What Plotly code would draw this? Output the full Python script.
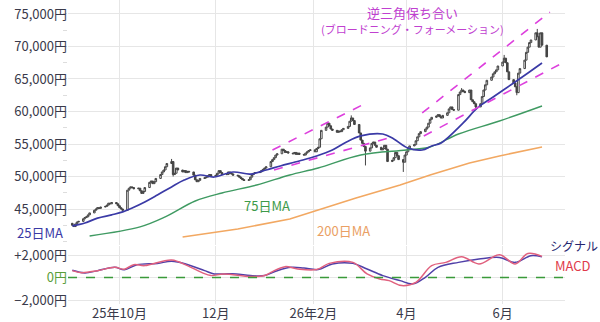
import plotly.graph_objects as go
import pandas as pd

# ---------------- data ----------------
trade_days = pd.bdate_range("2025-09-01", "2026-06-29")

closes = [
    42500, 42300, 42700, 43000, 43100,
    43500, 43700, 43800, 44100, 44400,
    44800, 45000, 45200, 45100, 45300,
    45400, 45600, 45900, 45800, 46000,
    45800, 45500, 45200, 45000, 44800,
    47900, 48200, 48400, 48300, 48100,
    48200, 47800, 47400, 47700, 48300,
    49100, 49300, 48900, 49200, 49700,
    50300, 50700, 51000, 51500, 52000,
    52300, 50300, 50500, 51300, 51000,
    50700, 50900, 50600, 50800, 50700,
    50200, 49500, 49200, 49400, 49700,
    49800, 49900, 50100, 50300, 50000,
    50200, 50500, 50900, 50600, 50300,
    50300, 50700, 50500, 50400, 50200,
    50100, 49900, 49700, 49500, 49400,
    49500, 49900, 50300, 50500, 50600,
    50700, 50900, 51100, 51300, 51500,
    52300, 52600, 52900, 53300, 53500,
    54200, 54000, 53700, 53800, 53600,
    53500, 53700, 53400, 53600, 53400,
    53300, 53600, 53800, 54000, 54100,
    53800, 54300, 54500, 55800, 57100,
    57600, 58200, 57800, 57300, 57100,
    56800, 57000, 56900, 57200, 57400,
    57700, 58500, 59000, 58600, 58000,
    56700, 55600, 55100, 54600, 53900,
    54400, 55100, 55300, 54800, 54500,
    54100, 54300, 54800, 54200, 52300,
    52500, 52900, 53700, 53200, 52600,
    52200, 53300, 53800, 54300, 54700,
    54900, 55500, 56100, 56600, 56900,
    57300, 57600, 58200, 58800, 59100,
    59300, 59500, 59200, 59000, 59400,
    59800, 60400, 60700, 60300, 60200,
    62600, 63000, 63300, 63100, 62900,
    63300, 61800, 61500, 61200, 60700,
    61200, 62300, 63300, 64100, 64800,
    65300, 65800, 66100, 66400, 67000,
    67600, 68200, 67500, 66100, 64900,
    64400, 63800, 62900, 65900, 66600,
    67900, 69100, 69900, 70600, 71000,
    72100, 71500, 69900, 72100, 70200,
    68400,
]
first_open = 42800
wick_high = {"2025-11-03": 52700, "2026-02-25": 59400, "2026-05-06": 63600,
             "2026-06-02": 68700, "2026-06-23": 72700}
wick_low = {"2025-11-04": 50000, "2026-03-06": 51700, "2026-03-30": 50700,
            "2026-06-10": 62500, "2026-05-15": 60400}

ma25_dates = ["2025-09-01", "2025-09-09", "2025-09-17", "2025-09-26", "2025-10-03", "2025-10-09",
              "2025-10-17", "2025-10-25", "2025-11-03", "2025-11-11", "2025-11-21", "2025-11-30",
              "2025-12-12", "2025-12-23", "2026-01-02", "2026-01-11", "2026-01-23", "2026-02-03",
              "2026-02-13", "2026-02-22", "2026-03-03", "2026-03-17", "2026-03-24", "2026-04-02",
              "2026-04-11", "2026-04-17", "2026-04-23", "2026-05-07", "2026-05-16", "2026-05-26",
              "2026-06-08", "2026-06-18", "2026-06-26"]
ma25_vals = [42400, 42850, 43600, 44100, 44550, 45150,
             46080, 47150, 48400, 49450, 50230, 49920,
             50690, 50380, 51000, 51620, 52390, 53160,
             54080, 55310, 56240, 56540, 55770, 54380,
             54080, 54700, 55160, 58240, 60540, 62230,
             64390, 66080, 67460]

ma75_dates = ["2025-09-12", "2025-10-14", "2025-10-30", "2025-11-18", "2025-12-05", "2025-12-27",
              "2026-01-17", "2026-02-04", "2026-03-03", "2026-04-01", "2026-04-16", "2026-05-04",
              "2026-05-30", "2026-06-26"]
ma75_vals = [40850, 42240, 43780, 46230, 47460, 48690,
             50230, 51310, 53310, 54080, 54540, 56540,
             58540, 60850]

ma200_dates = ["2025-11-10", "2025-12-15", "2026-01-17", "2026-02-28", "2026-03-28", "2026-04-16",
               "2026-05-11", "2026-05-30", "2026-06-26"]
ma200_vals = [40700, 41930, 43470, 46700, 48700, 50230, 52080, 53160, 54540]

# trend lines of the broadening formations (start/end)
trend_dates = [["2026-01-06", "2026-03-04"], ["2026-01-07", "2026-03-23"],
               ["2026-04-11", "2026-07-01"], ["2026-04-12", "2026-07-10"]]
trend_vals = [[54080, 61000], [51000, 56080], [59770, 75300], [56230, 67600]]

macd_dates = ["2025-09-01", "2025-09-07", "2025-09-17", "2025-09-28", "2025-10-04", "2025-10-10",
              "2025-10-17", "2025-11-03", "2025-11-13", "2025-11-22", "2025-11-28", "2025-12-06",
              "2025-12-23", "2026-01-01", "2026-01-05", "2026-01-14", "2026-01-22", "2026-02-03",
              "2026-02-11", "2026-02-26", "2026-03-07", "2026-03-15", "2026-03-21", "2026-03-29",
              "2026-04-07", "2026-04-17", "2026-04-26", "2026-05-06", "2026-05-17", "2026-05-30",
              "2026-06-09", "2026-06-17", "2026-06-26"]
macd_vals = [620, 440, 620, 920, 750, 1150,
             1070, 1570, 1070, 470, 180, 330,
             90, 180, 470, 980, 770, 720,
             1270, 1360, 330, -120, -270, -710,
             -420, 1070, 1360, 1870, 1220, 2040,
             1220, 2160, 1900]

signal_dates = ["2025-09-01", "2025-09-09", "2025-09-17", "2025-09-28", "2025-10-04", "2025-10-12",
                "2025-10-25", "2025-11-03", "2025-11-12", "2025-11-24", "2025-11-30", "2025-12-06",
                "2025-12-14", "2025-12-23", "2026-01-01", "2026-01-09", "2026-01-18", "2026-01-26",
                "2026-02-04", "2026-02-13", "2026-02-26", "2026-03-07", "2026-03-17", "2026-03-28",
                "2026-04-05", "2026-04-13", "2026-04-21", "2026-05-04", "2026-05-17", "2026-05-30",
                "2026-06-09", "2026-06-19", "2026-06-26"]
signal_vals = [650, 420, 620, 920, 700, 1150,
               1270, 1450, 1220, 620, 330, 330,
               330, 180, 180, 620, 920, 850,
               720, 1220, 1270, 770, 180, -270,
               -560, 30, 920, 1360, 1660, 1800,
               1360, 1960, 1850]

x_tickvals = ["2025-10-01", "2025-12-01", "2026-02-01", "2026-04-01", "2026-06-01"]
x_ticktext = ["25年10月", "12月", "26年2月", "4月", "6月"]
price_tickvals = [45000, 50000, 55000, 60000, 65000, 70000, 75000]
price_ticktext = ["45,000円", "50,000円", "55,000円", "60,000円", "65,000円", "70,000円", "75,000円"]
macd_tickvals = [-2000, 0, 2000]
macd_ticktext = ["−2,000円", "<span style='color:#5a9e3a'>0円</span>", "+2,000円"]

# ---------------- build ----------------
opens = [first_open] + closes[:-1]
day_str = [d.strftime("%Y-%m-%d") for d in trade_days]
highs = [max(o, c) for o, c in zip(opens, closes)]
lows = [min(o, c) for o, c in zip(opens, closes)]
for i, d in enumerate(day_str):
    if d in wick_high:
        highs[i] = max(highs[i], wick_high[d])
    if d in wick_low:
        lows[i] = min(lows[i], wick_low[d])

FONT = "Noto Sans CJK JP, Noto Sans, sans-serif"
NAVY = "#3a3aa6"
GREEN = "#3f9a62"
ORANGE = "#f2a862"
MAG = "#dd3fdd"
CANDLE = "#444444"

fig = go.Figure()
fig.add_trace(go.Candlestick(
    x=trade_days, open=opens, high=highs, low=lows, close=closes,
    increasing=dict(line=dict(color=CANDLE, width=1), fillcolor="#ffffff"),
    decreasing=dict(line=dict(color=CANDLE, width=1), fillcolor=CANDLE),
    whiskerwidth=0, xaxis="x", yaxis="y", hoverinfo="skip"))
fig.add_trace(go.Scatter(x=ma200_dates, y=ma200_vals, mode="lines",
                         line=dict(color=ORANGE, width=1.6), xaxis="x", yaxis="y"))
fig.add_trace(go.Scatter(x=ma75_dates, y=ma75_vals, mode="lines", line_shape="spline",
                         line=dict(color=GREEN, width=1.4), xaxis="x", yaxis="y"))
fig.add_trace(go.Scatter(x=ma25_dates, y=ma25_vals, mode="lines", line_shape="spline",
                         line=dict(color=NAVY, width=1.7), xaxis="x", yaxis="y"))
for td, tv in zip(trend_dates, trend_vals):
    fig.add_trace(go.Scatter(x=td, y=tv, mode="lines",
                             line=dict(color=MAG, width=1.6, dash="dash"), xaxis="x", yaxis="y"))

fig.add_trace(go.Scatter(x=signal_dates, y=signal_vals, mode="lines", line_shape="spline",
                         line=dict(color="#5040a8", width=1.5), xaxis="x2", yaxis="y2"))
fig.add_trace(go.Scatter(x=macd_dates, y=macd_vals, mode="lines", line_shape="spline",
                         line=dict(color="#e0607e", width=1.5), xaxis="x2", yaxis="y2"))

fig.add_shape(type="line", xref="x2 domain", yref="y2", x0=0, x1=1, y0=0, y1=0,
              line=dict(color="#3a9a3a", width=1.5, dash="dash"))

xrange = ["2025-08-29 07:00", "2026-07-10 14:00"]
grid = "#e6e6e6"
tickfont = dict(family=FONT, size=13, color="#3a3a4a")

def px(xp, yp):
    return (xp - 68) / 497.0, 1 - yp / 304.0

anns = [
    ("25日MA", 65, 232, NAVY, "right", 13),
    ("75日MA", 267, 205, "#3d9a48", "center", 13),
    ("200日MA", 343, 230, "#eaa064", "center", 13),
    ("逆三角保ち合い", 412, 12, "#c040d0", "center", 13),
    ("(ブロードニング・フォーメーション)", 412, 29, "#c040d0", "center", 11),
    ("シグナル", 574, 245, "#25256e", "center", 12),
    ("MACD", 573, 265, "#e03a4a", "center", 13),
]
annotations = []
for t, xp, yp, col, anc, sz in anns:
    ax, ay = px(xp, yp)
    annotations.append(dict(text=t, x=ax, y=ay, xref="paper", yref="paper", showarrow=False,
                            xanchor=anc, yanchor="middle",
                            font=dict(family=FONT, size=sz, color=col)))

fig.update_layout(
    width=600, height=322,
    margin=dict(l=68, r=35, t=0, b=18),
    paper_bgcolor="white", plot_bgcolor="white",
    showlegend=False,
    boxgap=0, boxgroupgap=0,
    font=dict(family=FONT),
    annotations=annotations,
    xaxis=dict(domain=[0, 1], anchor="y", range=xrange, type="date",
               tickvals=x_tickvals, showticklabels=False, showgrid=True, gridcolor=grid,
               rangeslider=dict(visible=False), zeroline=False, showline=False, ticks=""),
    xaxis2=dict(domain=[0, 1], anchor="y2", range=xrange, type="date", matches="x",
                tickvals=x_tickvals, ticktext=x_ticktext, tickfont=tickfont,
                showgrid=True, gridcolor=grid, zeroline=False, showline=False, ticks=""),
    yaxis=dict(domain=[0.194, 1], anchor="x", range=[39460, 77150],
               tickvals=price_tickvals, ticktext=price_ticktext, tickfont=tickfont,
               showgrid=True, gridcolor=grid, zeroline=False, ticks="",
               minor=dict(dtick=2500, tick0=0, ticks="outside", ticklen=4,
                          tickcolor="#dddddd", showgrid=False)),
    yaxis2=dict(domain=[0, 0.19], anchor="x2", range=[-2356, 2800],
                tickvals=macd_tickvals, ticktext=macd_ticktext, tickfont=tickfont,
                showgrid=True, gridcolor=grid, zeroline=False, ticks=""),
)

fig.write_html("out.html")
